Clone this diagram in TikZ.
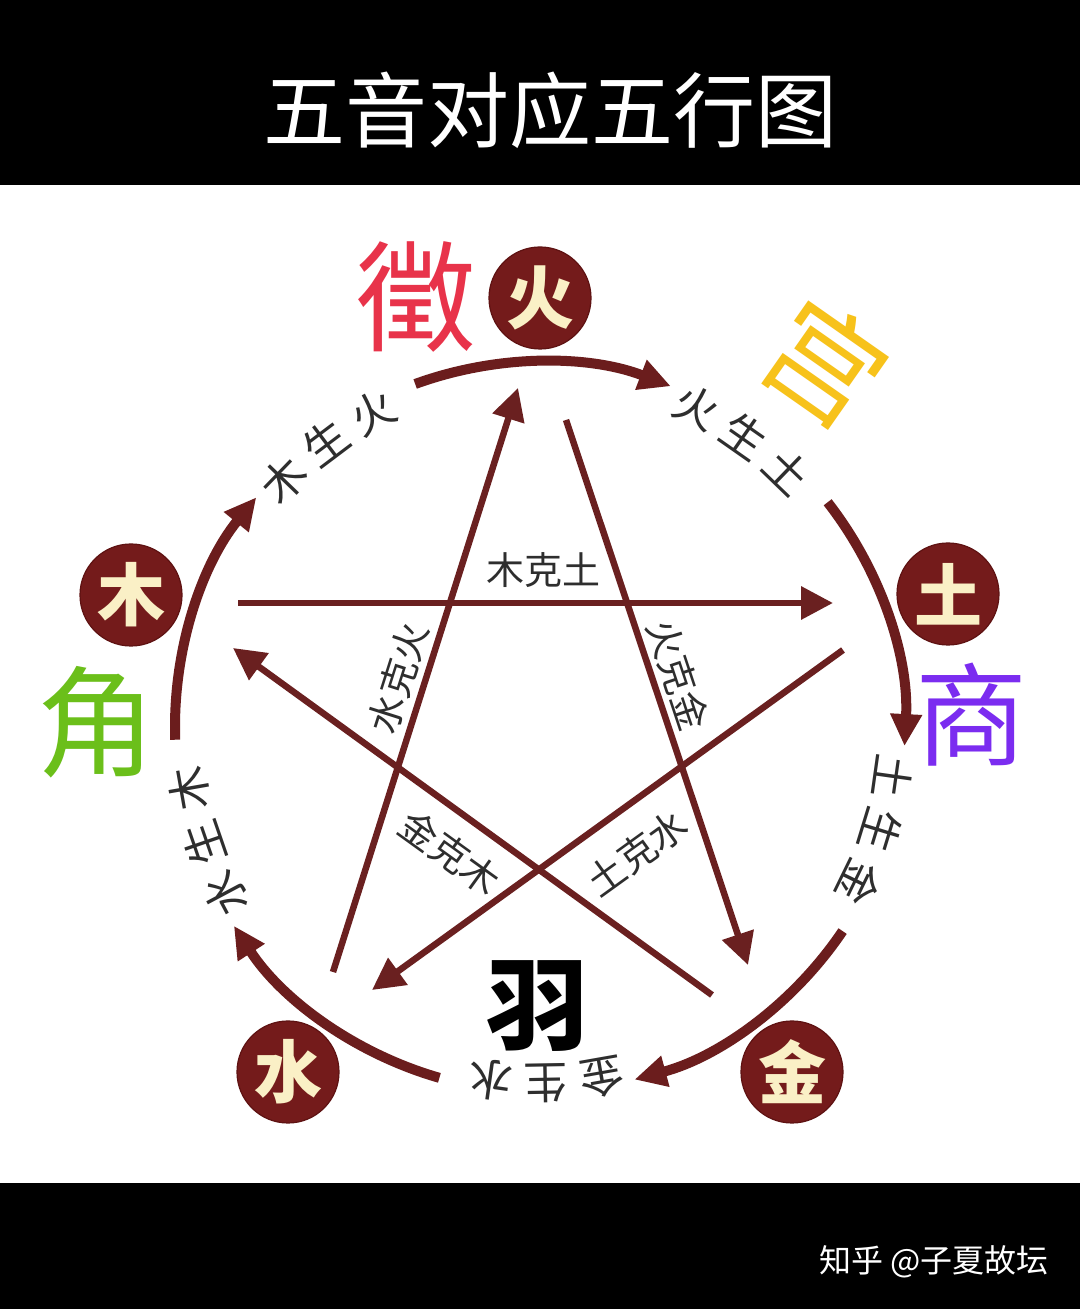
\documentclass[tikz,border=0pt]{standalone}
\usepackage{fontspec}
\newfontfamily\cjk{Noto Sans CJK SC}
\usetikzlibrary{arrows.meta}
\definecolor{ringc}{HTML}{6B1D1D}
\definecolor{starc}{HTML}{6A2020}
\definecolor{elemfill}{HTML}{741B1B}
\definecolor{elemedge}{HTML}{5E1212}
\definecolor{cream}{HTML}{FAF0C6}
\definecolor{lbl}{HTML}{2E2E2E}
\definecolor{zhired}{HTML}{E8334A}
\definecolor{gongy}{HTML}{F7C21B}
\definecolor{shangp}{HTML}{7B2CF0}
\definecolor{jiaog}{HTML}{6BBF1A}
\tikzset{
  ringarc/.style={draw=ringc, line width=10pt, -{Triangle[length=32pt,width=30pt]}},
  stararrow/.style={draw=starc, line width=6.5pt, -{Triangle[length=32pt,width=32pt]}},
  elem/.style={circle, fill=elemfill, draw=elemedge, line width=1.2pt, minimum size=102pt, inner sep=0pt, text=cream, font=\cjk\bfseries\fontsize{68}{68}\selectfont},
  ringlbl/.style={text=lbl, inner sep=0pt, font=\cjk\fontsize{44}{44}\selectfont},
  starlbl/.style={text=lbl, inner sep=0pt, font=\cjk\fontsize{38}{38}\selectfont},
  tone/.style={inner sep=0pt, font=\cjk\fontsize{#1}{#1}\selectfont},
}
\begin{document}
\begin{tikzpicture}[x=1pt,y=1pt]
\useasboundingbox (0,0) rectangle (1080,1309);
\fill[white] (0,0) rectangle (1080,1309);
\fill[black] (0,1124) rectangle (1080,1309);
\fill[black] (0,0) rectangle (1080,126);
\node[text=white, inner sep=0pt, font=\cjk\fontsize{82}{82}\selectfont] (title) at (550,1199) {五音对应五行图};
\node[text=white, inner sep=0pt, font=\cjk\fontsize{32}{32}\selectfont] (footer) at (934,47) {知乎 @子夏故坛};

% generating cycle (ring)
\begin{scope}[shift={(540,582)}]
  \foreach \k in {0,...,4} {
    \draw[ringarc] ({110-72*\k}:365) arc[start angle={110-72*\k}, end angle={69-72*\k}, radius=365];
  }
  \foreach \a/\ca/\cb/\cc [count=\i] in {55/火/生/土, -17/土/生/金, -89/金/生/水, -161/水/生/木, 127/木/生/火} {
    \node[ringlbl, rotate={\a+9-90}] (ra\i) at ({\a+9}:356) {\ca};
    \node[ringlbl, rotate={\a-90}] (rb\i) at (\a:356) {\cb};
    \node[ringlbl, rotate={\a-9-90}] (rc\i) at ({\a-9}:356) {\cc};
  }
\end{scope}

% element nodes
\node[elem] (huo) at (540,1011) {火};
\node[elem] (tu) at (948,715) {土};
\node[elem] (jin) at (792,237) {金};
\node[elem] (shui) at (288,237) {水};
\node[elem] (mu) at (131,714) {木};

% controlling cycle (star)
\coordinate (hjS) at (566,889);  \coordinate (hjE) at (748,344);
\coordinate (shS) at (333,337);  \coordinate (shE) at (518,921);
\coordinate (mtS) at (238,706);  \coordinate (mtE) at (833,706);
\coordinate (tsS) at (843,659);  \coordinate (tsE) at (372,319);
\coordinate (jmS) at (712,314);  \coordinate (jmE) at (233,661);
\draw[stararrow] (hjS) -- (hjE);
\draw[stararrow] (shS) -- (shE);
\draw[stararrow] (mtS) -- (mtE);
\draw[stararrow] (tsS) -- (tsE);
\draw[stararrow] (jmS) -- (jmE);

\node[starlbl] (l1) at (543,739) {木克土};
\node[starlbl, rotate=72.4] (l2) at (398,631) {水克火};
\node[starlbl, rotate=-71.6] (l3) at (678,634) {火克金};
\node[starlbl, rotate=-35.8] (l4) at (450,456) {金克木};
\node[starlbl, rotate=35.8] (l5) at (637,456) {土克水};

% five tones
\node[tone=120, text=zhired] (zhi) at (416,1012) {徵};
\node[tone=118, text=gongy, rotate=-35] (gong) at (826,947) {宫};
\node[tone=112, text=shangp] (shang) at (971,594) {商};
\node[tone=120, text=jiaog] (jiao) at (96,587) {角};
\node[tone=105, text=black, font=\cjk\bfseries\fontsize{102}{102}\selectfont] (yu) at (537,303) {羽};
\end{tikzpicture}
\end{document}
